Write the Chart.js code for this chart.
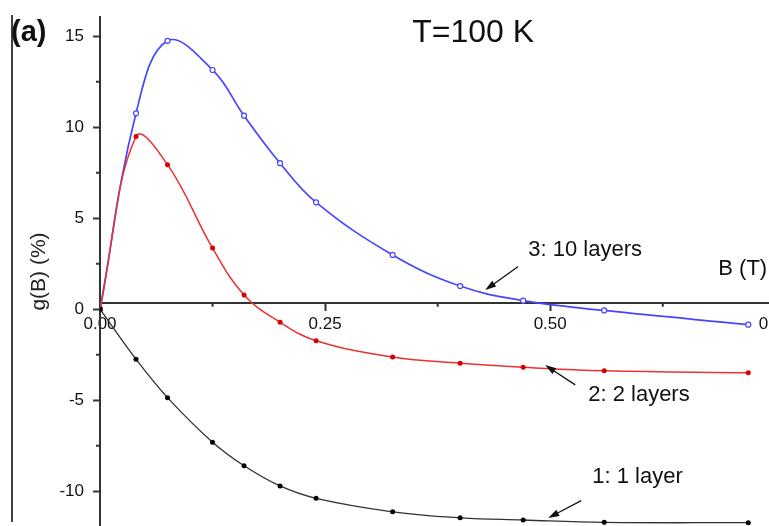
<!DOCTYPE html>
<html>
<head>
<meta charset="utf-8">
<script src="https://cdn.jsdelivr.net/npm/chart.js@4.4.1/dist/chart.umd.min.js"></script>
<style>
    html, body { margin: 0; padding: 0; background: #fff; }
</style>
</head>
<body>
<canvas id="myChart" width="769" height="526"></canvas>
<script>
// campo magnetico B (T) de cada punto medido
const campoB = [0, 0.04, 0.075, 0.125, 0.16, 0.2, 0.24, 0.325, 0.4, 0.47, 0.56, 0.72];
// g(B) (%) para cada numero de capas
const capa1 = [0, -2.75, -4.86, -7.31, -8.60, -9.71, -10.39, -11.13, -11.46, -11.58, -11.71, -11.73];
const capa2 = [0, 9.48, 7.94, 3.36, 0.78, -0.72, -1.73, -2.63, -2.97, -3.19, -3.38, -3.49];
const capa10 = [0, 10.76, 14.74, 13.14, 10.63, 8.02, 5.87, 2.98, 1.27, 0.47, -0.07, -0.85];
// marcas de los ejes
const ticksX = [0, 0.25, 0.5, 0.75];
const ticksY = [-10, -5, 0, 5, 10, 15];
const minorX = [0.125, 0.375, 0.625];
const minorY = [-7.5, -2.5, 2.5, 7.5, 12.5];

const fuente = '"Liberation Sans", Arial, sans-serif';

// textos y flechas, en unidades de los datos
const notas = [
    { texto: '3: 10 layers', x: 0.4756, y: 3.25, desde: [0.4644, 2.34], hasta: [0.4278, 1.05] },
    { texto: '2: 2 layers', x: 0.5422, y: -4.71, desde: [0.5278, -4.16], hasta: [0.4944, -3.07] },
    { texto: '1: 1 layer', x: 0.5467, y: -9.20, desde: [0.5344, -10.52], hasta: [0.4978, -11.47] },
    { texto: 'B (T)', x: 0.6867, y: 2.21 }
];

function puntos(ys) {
    return campoB.map((b, i) => ({ x: b, y: ys[i] }));
}

function sinRelleno(s) {
    s.paddingLeft = 0;
    s.paddingRight = 0;
    s.paddingTop = 0;
    s.paddingBottom = 0;
}

function flecha(ctx, x1, y1, x2, y2) {
    const a = Math.atan2(y2 - y1, x2 - x1);
    const c = Math.cos(a), s = Math.sin(a);
    ctx.beginPath();
    ctx.moveTo(x1, y1);
    ctx.lineTo(x2 - 8 * c, y2 - 8 * s);
    ctx.stroke();
    ctx.beginPath();
    ctx.moveTo(x2, y2);
    ctx.lineTo(x2 - 11 * c + 3.5 * s, y2 - 11 * s - 3.5 * c);
    ctx.lineTo(x2 - 11 * c - 3.5 * s, y2 - 11 * s + 3.5 * c);
    ctx.closePath();
    ctx.fill();
}

const anotaciones = {
    id: 'anotaciones',
    afterDraw(chart) {
        const ctx = chart.ctx;
        const sx = chart.scales.x;
        const sy = chart.scales.y;
        const ejeX = sy.getPixelForValue(0.35);
        const izq = chart.chartArea.left;
        ctx.save();
        // marcas menores
        ctx.strokeStyle = '#333';
        ctx.lineWidth = 2;
        ctx.beginPath();
        minorX.forEach(v => {
            const p = sx.getPixelForValue(v);
            ctx.moveTo(p, ejeX);
            ctx.lineTo(p, ejeX + 4);
        });
        minorY.forEach(v => {
            const p = sy.getPixelForValue(v);
            ctx.moveTo(izq, p);
            ctx.lineTo(izq - 4, p);
        });
        ctx.stroke();

        // borde del panel
        ctx.strokeStyle = '#000';
        ctx.lineWidth = 1.5;
        ctx.beginPath();
        ctx.moveTo(12, 15);
        ctx.lineTo(12, 522);
        ctx.stroke();

        ctx.fillStyle = '#111';
        ctx.textBaseline = 'middle';
        ctx.textAlign = 'left';
        ctx.font = 'bold 29px ' + fuente;
        ctx.fillText('(a)', 11, 33);

        ctx.font = '32px ' + fuente;
        ctx.fillText('T=100 K', sx.getPixelForValue(0.3467), sy.getPixelForValue(15.18));

        ctx.font = '22px ' + fuente;
        ctx.strokeStyle = '#111';
        ctx.lineWidth = 1.3;
        notas.forEach(n => {
            ctx.fillText(n.texto, sx.getPixelForValue(n.x), sy.getPixelForValue(n.y));
            if (n.desde) {
                flecha(ctx,
                    sx.getPixelForValue(n.desde[0]), sy.getPixelForValue(n.desde[1]),
                    sx.getPixelForValue(n.hasta[0]), sy.getPixelForValue(n.hasta[1]));
            }
        });
        ctx.restore();
    }
};

document.addEventListener('DOMContentLoaded', function () {
    var ctx = document.getElementById('myChart').getContext('2d');
    new Chart(ctx, {
        type: 'line',
        data: {
            datasets: [{
                label: '1: 1 layer',
                data: puntos(capa1),
                borderColor: 'rgba(50, 50, 50, 1)',
                backgroundColor: 'rgba(0, 0, 0, 1)',
                borderWidth: 1.3,
                pointRadius: 2.5,
                pointBorderWidth: 0,
                tension: 0.4
            }, {
                label: '2: 2 layers',
                data: puntos(capa2),
                borderColor: 'rgba(235, 50, 50, 1)',
                backgroundColor: 'rgba(215, 0, 0, 1)',
                borderWidth: 1.5,
                pointRadius: 2.5,
                pointBorderWidth: 0,
                tension: 0.4
            }, {
                label: '3: 10 layers',
                data: puntos(capa10),
                borderColor: 'rgba(70, 70, 255, 1)',
                backgroundColor: 'rgba(255, 255, 255, 1)',
                borderWidth: 1.7,
                pointRadius: 2.5,
                pointBorderWidth: 1.2,
                tension: 0.4
            }]
        },
        options: {
            responsive: false,
            animation: false,
            layout: { padding: { left: 0, top: 17, right: 0, bottom: 0 }, autoPadding: false },
            plugins: {
                legend: { display: false },
                tooltip: { enabled: false }
            },
            scales: {
                x: {
                    type: 'linear',
                    min: 0,
                    max: 0.743,
                    position: { y: 0.35 },
                    border: { display: true, color: '#333', width: 2 },
                    grid: { drawOnChartArea: false, drawTicks: true, tickLength: 7, tickColor: '#333', tickWidth: 2 },
                    ticks: {
                        color: '#111',
                        font: { size: 17, family: fuente },
                        padding: 4,
                        autoSkip: false,
                        maxRotation: 0,
                        callback: v => v.toFixed(2)
                    },
                    afterBuildTicks: s => { s.ticks = ticksX.map(v => ({ value: v })); },
                    afterFit: sinRelleno
                },
                y: {
                    type: 'linear',
                    min: -11.91,
                    max: 16.05,
                    position: 'left',
                    border: { display: true, color: '#333', width: 2 },
                    grid: { drawOnChartArea: false, drawTicks: true, tickLength: 7, tickColor: '#333', tickWidth: 2 },
                    ticks: {
                        color: '#111',
                        font: { size: 17, family: fuente },
                        padding: 9,
                        autoSkip: false,
                        callback: v => String(v)
                    },
                    title: {
                        display: true,
                        text: 'g(B) (%)',
                        color: '#222',
                        font: { size: 21, family: fuente },
                        padding: { top: 27, bottom: 0 }
                    },
                    afterBuildTicks: s => { s.ticks = ticksY.map(v => ({ value: v })); },
                    afterFit: s => { sinRelleno(s); s.width = 100; }
                }
            }
        },
        plugins: [anotaciones]
    });
});
</script>
</body>
</html>
